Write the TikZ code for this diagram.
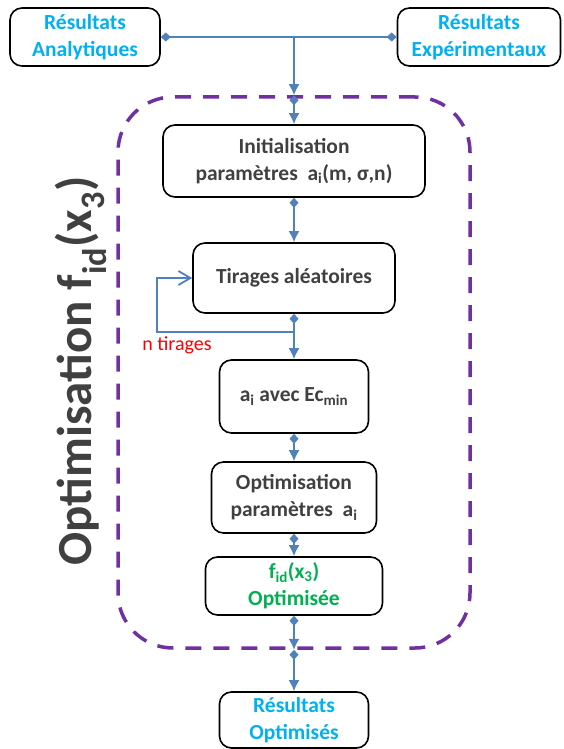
\documentclass[tikz,border=0pt]{standalone}
\usepackage{fontspec}
\setmainfont{Carlito}
\usetikzlibrary{arrows.meta}
\definecolor{bleu}{HTML}{4F81BD}
\definecolor{ciel}{HTML}{00B0F0}
\definecolor{vert}{HTML}{00B050}
\definecolor{gris}{HTML}{404040}
\definecolor{violet}{HTML}{7030A0}
\begin{document}
\begin{tikzpicture}[x=1pt,y=-1pt,
	boite/.style={draw,line width=1.6pt,rounded corners=12pt,align=center,inner sep=0pt,text=gris,font=\bfseries\fontsize{21.5}{27}\selectfont},
	cadre/.style={draw=violet,line width=3.5pt,dash pattern=on 16pt off 12pt,rounded corners=55pt},
	lien/.style={draw=bleu,line width=1.8pt,{Diamond[length=10pt,width=9pt]}-{Latex[length=11pt,width=11pt]}},
	fleche/.style={draw=bleu,line width=1.8pt,-{Latex[length=11pt,width=11pt]}}]
	\useasboundingbox (0,0) rectangle (563,749);
	\node[cadre,minimum width=352pt,minimum height=551pt] (cadre) at (294,372.5) {};
	\node[boite,text=ciel,minimum width=150pt,minimum height=58pt] (ana) at (85,37) {Résultats\\Analytiques};
	\node[boite,text=ciel,minimum width=163pt,minimum height=58pt] (exp) at (479,37) {Résultats\\Expérimentaux};
	\node[boite,minimum width=262pt,minimum height=72pt] (init) at (294,161) {Initialisation\\paramètres\ \ a\textsubscript{i}(m, σ,n)};
	\node[boite,minimum width=202pt,minimum height=70pt] (tir) at (294,278) {Tirages aléatoires};
	\node[boite,minimum width=149pt,minimum height=73pt] (ai) at (294,396.5) {a\textsubscript{i} avec Ec\textsubscript{min}};
	\node[boite,minimum width=165pt,minimum height=71pt] (opt) at (294,497.5) {Optimisation\\paramètres\ \ a\textsubscript{i}};
	\node[boite,text=vert,minimum width=177pt,minimum height=58pt] (fid) at (294,586) {f\textsubscript{id}(x\textsubscript{3})\\Optimisée};
	\node[boite,text=ciel,minimum width=149pt,minimum height=56pt] (res) at (294,720) {Résultats\\Optimisés};
	\node[rotate=90,anchor=base,text=gris,font=\bfseries\fontsize{49}{52}\selectfont] (titre) at (91,371) {Optimisation f\textsubscript{id}(x\textsubscript{3})};
	\node[text=red,font=\fontsize{20}{24}\selectfont] (nt) at (177,345) {n tirages};
	\coordinate (jonc) at (ana.east -| init.north);
	\coordinate (b) at (294,332);
	\coordinate (g) at (157,332);
	\draw[bleu,line width=1.8pt,{Diamond[length=10pt,width=9pt]}-{Diamond[length=10pt,width=9pt]}] (ana.east) -- (exp.west);
	\draw[fleche] (jonc) -- (cadre.north);
	\draw[lien] (cadre.north) -- (init.north);
	\draw[lien] (init.south) -- (tir.north);
	\draw[lien] (tir.south) -- (ai.north);
	\draw[bleu,line width=1.8pt,-{Straight Barb[length=12pt,width=14pt]}] (b) -- (g) |- (tir.west);
	\draw[lien] (ai.south) -- (opt.north);
	\draw[lien] (opt.south) -- (fid.north);
	\draw[lien] (fid.south) -- (cadre.south);
	\draw[lien] (cadre.south) -- (res.north);
\end{tikzpicture}
\end{document}
